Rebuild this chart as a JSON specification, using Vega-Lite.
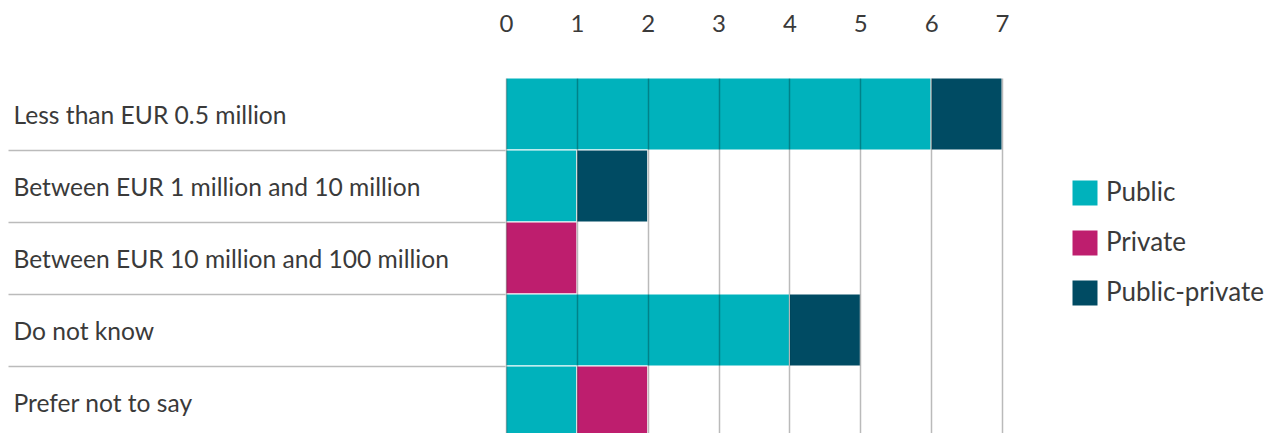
{
  "$schema": "https://vega.github.io/schema/vega-lite/v6.json",
  "autosize": {"type": "none"},
  "padding": {"left": 506, "top": 60, "right": 264, "bottom": 0},
  "width": 496,
  "height": 373,
  "background": "white",
  "config": {
    "view": {"stroke": null},
    "font": "Lato",
    "axis": {"labelFont": "Lato", "labelColor": "#3a3a3a"},
    "legend": {"labelFont": "Lato", "labelColor": "#3a3a3a"}
  },
  "data": {
    "values": [
      {"cat": "Less than EUR 0.5 million", "type": "Public", "n": 6, "o": 1},
      {"cat": "Less than EUR 0.5 million", "type": "Public-private", "n": 1, "o": 3},
      {"cat": "Between EUR 1 million and 10 million", "type": "Public", "n": 1, "o": 1},
      {"cat": "Between EUR 1 million and 10 million", "type": "Public-private", "n": 1, "o": 3},
      {"cat": "Between EUR 10 million and 100 million", "type": "Private", "n": 1, "o": 2},
      {"cat": "Do not know", "type": "Public", "n": 4, "o": 1},
      {"cat": "Do not know", "type": "Public-private", "n": 1, "o": 3},
      {"cat": "Prefer not to say", "type": "Public", "n": 1, "o": 1},
      {"cat": "Prefer not to say", "type": "Private", "n": 1, "o": 2}
    ]
  },
  "mark": {"type": "bar", "stroke": "white", "strokeWidth": 1},
  "encoding": {
    "y": {
      "field": "cat",
      "type": "nominal",
      "sort": ["Less than EUR 0.5 million", "Between EUR 1 million and 10 million", "Between EUR 10 million and 100 million", "Do not know", "Prefer not to say"],
      "scale": {"range": [18, 378], "paddingInner": 0, "paddingOuter": 0},
      "axis": {
        "title": null,
        "domain": false,
        "grid": false,
        "ticks": true,
        "bandPosition": 1,
        "tickExtra": false,
        "tickSize": 498,
        "tickColor": "#bbbbbb",
        "tickWidth": 1.5,
        "labelAlign": "left",
        "labelPadding": -5,
        "labelFontSize": 24.6,
        "labelBaseline": "middle",
        "labelOffset": 3,
        "labelLimit": 0
      }
    },
    "x": {
      "field": "n",
      "type": "quantitative",
      "stack": "zero",
      "scale": {"domain": [0, 7], "nice": false},
      "axis": {
        "orient": "top",
        "title": null,
        "domain": false,
        "ticks": false,
        "grid": true,
        "gridColor": "#000000",
        "gridOpacity": 0.27,
        "gridWidth": 1.5,
        "values": [0, 1, 2, 3, 4, 5, 6, 7],
        "labelFlush": false,
        "labelFontSize": 24,
        "labelPadding": 24,
        "zindex": 1
      }
    },
    "color": {
      "field": "type",
      "type": "nominal",
      "scale": {"domain": ["Public", "Private", "Public-private"], "range": ["#00B2BC", "#BE1E6E", "#004B63"]},
      "legend": {
        "title": null,
        "orient": "none",
        "legendX": 566,
        "legendY": 120,
        "symbolType": "square",
        "symbolSize": 625,
        "symbolStrokeWidth": 0,
        "labelFontSize": 26,
        "labelOffset": 8,
        "rowPadding": 24
      }
    },
    "order": {"field": "o", "type": "quantitative"}
  }
}
